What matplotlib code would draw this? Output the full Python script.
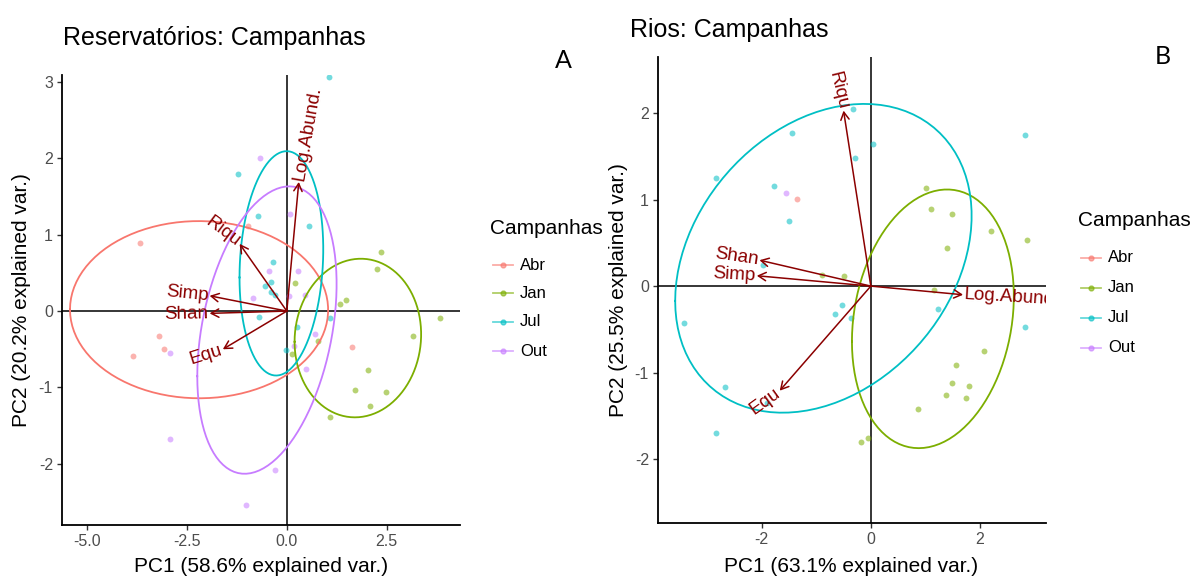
import numpy as np
import matplotlib
matplotlib.use("Agg")
import matplotlib.pyplot as plt
from matplotlib.patches import FancyArrowPatch
from matplotlib.lines import Line2D

# ---------------- data ----------------
campaigns = ["Abr", "Jan", "Jul", "Out"]
campaign_colors = ["#F8766D", "#7CAE00", "#00BFC4", "#C77CFF"]

# Reservatórios: PCA scores per sample
res_group = (["Jul"] * 13 + ["Out"] * 14 + ["Abr"] * 6 + ["Jan"] * 14)
res_pc1 = [1.05, -1.23, -0.73, 0.55, -0.35, -0.40, -0.55, -0.40, -0.30, -0.70, 1.08, 0.25, -0.03,
           -0.68, 0.08, -0.45, 0.28, -0.85, 0.05, 0.45, -2.93, 0.70, 0.18, 0.48, -2.93, -0.30, -1.03,
           -0.98, -3.68, -3.20, -3.08, -3.85, 1.63,
           2.35, 2.25, 0.20, 1.33, 1.48, 3.83, 0.78, 3.15, 2.03, 1.70, 2.48, 2.08, 1.08, 0.13]
res_pc2 = [3.06, 1.79, 1.24, 1.11, 0.64, 0.38, 0.33, 0.25, 0.21, -0.08, -0.09, -0.21, -0.51,
           2.00, 1.27, 0.52, 0.52, 0.17, 0.20, 0.21, -0.55, -0.30, -0.46, -0.76, -1.68, -2.08, -2.54,
           1.11, 0.89, -0.33, -0.50, -0.59, -0.47,
           0.77, 0.55, 0.37, 0.09, 0.14, -0.09, -0.39, -0.33, -0.77, -1.03, -1.06, -1.24, -1.39, -0.56]
res_vars = ["Log.Abund.", "Riqu", "Simp", "Shan", "Equ"]
res_load1 = [0.30, -1.18, -1.93, -1.93, -1.60]
res_load2 = [1.69, 0.88, 0.20, -0.03, -0.50]

# Rios: PCA scores per sample
riv_group = (["Jul"] * 18 + ["Jan"] * 18 + ["Out", "Abr"])
riv_pc1 = [-0.33, -1.45, 0.04, -0.29, -2.83, 2.83, -1.78, -1.50, -1.98, -0.53, 1.23, -3.43, -0.66,
           -0.37, 2.83, -2.68, -1.91, -2.83,
           1.01, 1.10, 1.49, 2.20, 2.86, 1.39, -0.90, -0.50, 1.16, 2.07, 1.56, 1.49, 1.80, 1.38,
           1.74, 0.86, -0.18, -0.06,
           -1.56, -1.35]
riv_pc2 = [2.05, 1.77, 1.64, 1.48, 1.25, 1.75, 1.16, 0.75, 0.24, -0.22, -0.27, -0.43, -0.32,
           -0.37, -0.47, -1.17, -1.35, -1.70,
           1.13, 0.89, 0.83, 0.64, 0.53, 0.44, 0.13, 0.12, -0.05, -0.75, -0.91, -1.12, -1.16, -1.26,
           -1.29, -1.42, -1.80, -1.76,
           1.08, 1.01]
riv_vars = ["Riqu", "Shan", "Simp", "Log.Abund.", "Equ"]
riv_load1 = [-0.50, -2.04, -2.09, 1.69, -1.67]
riv_load2 = [2.03, 0.30, 0.12, -0.10, -1.21]

# ---------------- style ----------------
W, H = 1202, 578
plt.rcParams["font.family"] = ["Liberation Sans", "DejaVu Sans"]
plt.rcParams["axes.unicode_minus"] = False
ARROW_COL = "#8B0000"
TICK_COL = "#4D4D4D"


def fx(px):
    return px / W


def fy(py):
    return 1 - py / H


def group_ellipse(x, y, prob=0.68, n=100):
    """Normal-probability contour of a group, as in ggbiplot."""
    x = np.asarray(x)
    y = np.asarray(y)
    sigma = np.cov(np.vstack([x, y]))
    mu = np.array([x.mean(), y.mean()])
    ed = np.sqrt(-2.0 * np.log(1.0 - prob))
    theta = np.linspace(-np.pi, np.pi, n)
    circle = np.column_stack([np.cos(theta), np.sin(theta)])
    upper = np.linalg.cholesky(sigma).T
    return circle @ upper * ed + mu


def draw_biplot(ax, pc1, pc2, groups, vnames, l1, l2, xlim, ylim, xticks, xticklabels, yticks):
    pc1 = np.asarray(pc1)
    pc2 = np.asarray(pc2)
    groups = np.asarray(groups)
    ax.axhline(0, color="black", lw=1.1, zorder=1)
    ax.axvline(0, color="black", lw=1.1, zorder=1)
    for g, c in zip(campaigns, campaign_colors):
        m = groups == g
        if m.sum() == 0:
            continue
        ax.scatter(pc1[m], pc2[m], s=18, color=c, alpha=0.55, linewidths=0, zorder=2)
        if m.sum() > 2:
            e = group_ellipse(pc1[m], pc2[m])
            ax.plot(e[:, 0], e[:, 1], color=c, lw=1.3, zorder=3)
    for name, x, y in zip(vnames, l1, l2):
        arr = FancyArrowPatch((0, 0), (x, y), arrowstyle="->,head_length=0.55,head_width=0.3",
                              mutation_scale=10, lw=1.1, color=ARROW_COL,
                              shrinkA=0, shrinkB=0, zorder=4)
        ax.add_patch(arr)
        ang = np.degrees(np.arctan(y / x))
        sgn = 1 if x > 0 else -1
        gap = 1.0
        dx = sgn * gap * np.cos(np.radians(ang))
        dy = sgn * gap * np.sin(np.radians(ang))
        ax.annotate(name, xy=(x, y), xytext=(dx, dy), textcoords="offset points",
                    rotation=ang, rotation_mode="anchor",
                    ha="left" if x > 0 else "right", va="center",
                    color=ARROW_COL, fontsize=13.5, zorder=5,
                    annotation_clip=False, clip_on=True)
    ax.set_xlim(*xlim)
    ax.set_ylim(*ylim)
    ax.set_xticks(xticks)
    ax.set_xticklabels(xticklabels)
    ax.set_yticks(yticks)
    ax.set_yticklabels([str(v) for v in yticks])
    for s in ["top", "right"]:
        ax.spines[s].set_visible(False)
    for s in ["left", "bottom"]:
        ax.spines[s].set_linewidth(1.3)
        ax.spines[s].set_color("black")
    ax.tick_params(direction="out", length=3.5, width=1.0, color="#333333",
                   labelcolor=TICK_COL, labelsize=11.5, pad=3)


def draw_legend(fig, x0, ytitle, yentries):
    fig.text(fx(x0), fy(ytitle), "Campanhas", fontsize=15, va="center", ha="left")
    for g, c, yy in zip(campaigns, campaign_colors, yentries):
        fig.add_artist(Line2D([fx(x0 + 3), fx(x0 + 23)], [fy(yy), fy(yy)],
                              color=c, lw=1.3, alpha=0.6, transform=fig.transFigure))
        fig.add_artist(Line2D([fx(x0 + 13)], [fy(yy)], marker="o", markersize=3.5,
                              color=c, alpha=0.6, lw=0, transform=fig.transFigure))
        fig.text(fx(x0 + 30), fy(yy), g, fontsize=12, va="center", ha="left")


fig = plt.figure(figsize=(W / 100, H / 100), dpi=100)

# Panel A: Reservatórios
axA = fig.add_axes([fx(62), fy(525), (460 - 62) / W, (525 - 75) / H])
draw_biplot(axA, res_pc1, res_pc2, res_group, res_vars, res_load1, res_load2,
            (-5.62, 4.33), (-2.80, 3.09),
            [-5.0, -2.5, 0.0, 2.5], ["-5.0", "-2.5", "0.0", "2.5"], [-2, -1, 0, 1, 2, 3])
fig.text(fx(63), fy(45), "Reservatórios: Campanhas", fontsize=18, ha="left", va="baseline")
fig.text(fx(261), fy(566), "PC1 (58.6% explained var.)", fontsize=15, ha="center", va="center")
fig.text(fx(22), fy(300), "PC2 (20.2% explained var.)", fontsize=15, ha="center", va="center",
         rotation=90)
fig.text(fx(563), fy(60), "A", fontsize=18, ha="center", va="center", family=["Lato", "DejaVu Sans"])
draw_legend(fig, 490, 228, [265, 293, 322, 351])

# Panel B: Rios
axB = fig.add_axes([fx(658), fy(523), (1046 - 658) / W, (523 - 57) / H])
draw_biplot(axB, riv_pc1, riv_pc2, riv_group, riv_vars, riv_load1, riv_load2,
            (-3.90, 3.21), (-2.74, 2.65),
            [-2, 0, 2], ["-2", "0", "2"], [-2, -1, 0, 1, 2])
fig.text(fx(630), fy(37), "Rios: Campanhas", fontsize=18, ha="left", va="baseline")
fig.text(fx(851), fy(566), "PC1 (63.1% explained var.)", fontsize=15, ha="center", va="center")
fig.text(fx(618), fy(290), "PC2 (25.5% explained var.)", fontsize=15, ha="center", va="center",
         rotation=90)
fig.text(fx(1163), fy(57), "B", fontsize=18, ha="center", va="center", family=["Lato", "DejaVu Sans"])
draw_legend(fig, 1078, 220, [258, 288, 318, 348])

fig.savefig("out.png", dpi=100)
